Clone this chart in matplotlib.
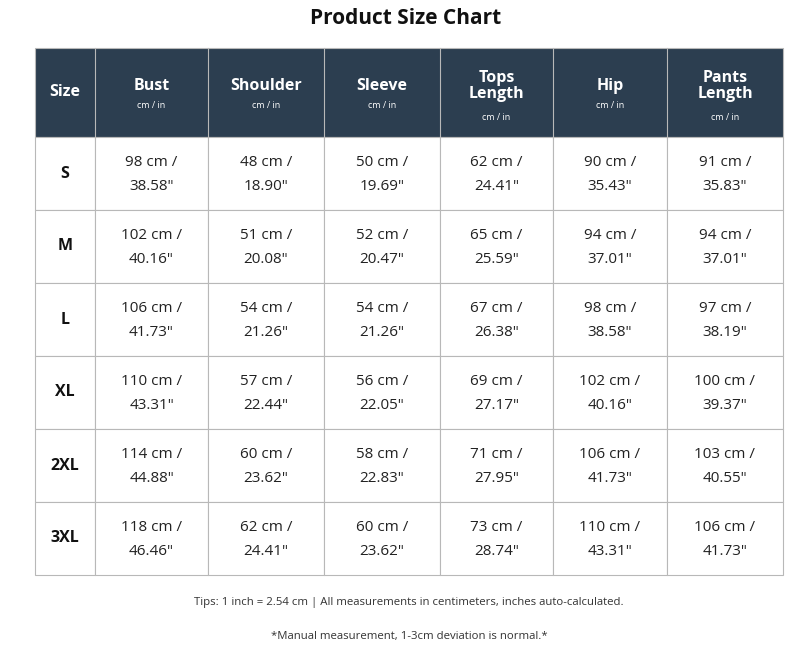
import matplotlib
matplotlib.use("Agg")
import matplotlib.pyplot as plt
from matplotlib.patches import Rectangle

plt.rcParams['font.family'] = ['Open Sans', 'DejaVu Sans']

sizes = ["S", "M", "L", "XL", "2XL", "3XL"]
headers = ["Bust", "Shoulder", "Sleeve", "Tops\nLength", "Hip", "Pants\nLength"]
bust_cm = [98, 102, 106, 110, 114, 118]
bust_in = ["38.58", "40.16", "41.73", "43.31", "44.88", "46.46"]
shoulder_cm = [48, 51, 54, 57, 60, 62]
shoulder_in = ["18.90", "20.08", "21.26", "22.44", "23.62", "24.41"]
sleeve_cm = [50, 52, 54, 56, 58, 60]
sleeve_in = ["19.69", "20.47", "21.26", "22.05", "22.83", "23.62"]
tops_cm = [62, 65, 67, 69, 71, 73]
tops_in = ["24.41", "25.59", "26.38", "27.17", "27.95", "28.74"]
hip_cm = [90, 94, 98, 102, 106, 110]
hip_in = ["35.43", "37.01", "38.58", "40.16", "41.73", "43.31"]
pants_cm = [91, 94, 97, 100, 103, 106]
pants_in = ["35.83", "37.01", "38.19", "39.37", "40.55", "41.73"]

cols = [(bust_cm, bust_in), (shoulder_cm, shoulder_in), (sleeve_cm, sleeve_in),
        (tops_cm, tops_in), (hip_cm, hip_in), (pants_cm, pants_in)]

fig = plt.figure(figsize=(8.11, 6.70), dpi=100)
ax = fig.add_axes([0, 0, 1, 1])
ax.set_xlim(0, 811)
ax.set_ylim(670, 0)
ax.axis("off")

xs = [35, 95, 208, 324, 440, 553, 667, 783]
hy0, hy1 = 48, 137
rh = 73
navy = "#2c3e50"
grid = "#b8b8b8"

ax.text(405.5, 18, "Product Size Chart", ha="center", va="center", fontsize=15, fontweight="bold", color="#111111")

# header
ax.add_patch(Rectangle((xs[0], hy0), xs[-1]-xs[0], hy1-hy0, facecolor=navy, edgecolor=grid, lw=0.8))
for i in range(1, len(xs)-1):
    ax.plot([xs[i], xs[i]], [hy0, hy1], color=grid, lw=0.8)
ax.text((xs[0]+xs[1])/2, (hy0+hy1)/2, "Size", ha="center", va="center", color="white", fontsize=11.5, fontweight="bold")
for j, h in enumerate(headers):
    cx = (xs[j+1]+xs[j+2])/2
    if "\n" in h:
        ax.text(cx, 86, h, ha="center", va="center", color="white", fontsize=11.5, fontweight="bold", linespacing=1.05)
        ax.text(cx, 117, "cm / in", ha="center", va="center", color="white", fontsize=6.5)
    else:
        ax.text(cx, 86, h, ha="center", va="center", color="white", fontsize=11.5, fontweight="bold")
        ax.text(cx, 105, "cm / in", ha="center", va="center", color="white", fontsize=6.5)

# body
for r, s in enumerate(sizes):
    y0 = hy1 + r*rh
    for c in range(len(xs)-1):
        ax.add_patch(Rectangle((xs[c], y0), xs[c+1]-xs[c], rh, facecolor="white", edgecolor=grid, lw=0.8))
    cy = y0 + rh/2
    ax.text((xs[0]+xs[1])/2, cy, s, ha="center", va="center", fontsize=11.5, fontweight="bold", color="#111111")
    for j, (cm, inch) in enumerate(cols):
        cx = (xs[j+1]+xs[j+2])/2
        ax.text(cx, cy-11, f"{cm[r]} cm /", ha="center", va="center", fontsize=11, color="#222222")
        ax.text(cx, cy+13, f'{inch[r]}"', ha="center", va="center", fontsize=11, color="#222222")

ax.text(409, 603, "Tips: 1 inch = 2.54 cm | All measurements in centimeters, inches auto-calculated.",
        ha="center", va="center", fontsize=8.2, color="#333333")
ax.text(409, 637, "*Manual measurement, 1-3cm deviation is normal.*",
        ha="center", va="center", fontsize=8.2, color="#333333")

fig.savefig("out.png", dpi=100, facecolor="white")
